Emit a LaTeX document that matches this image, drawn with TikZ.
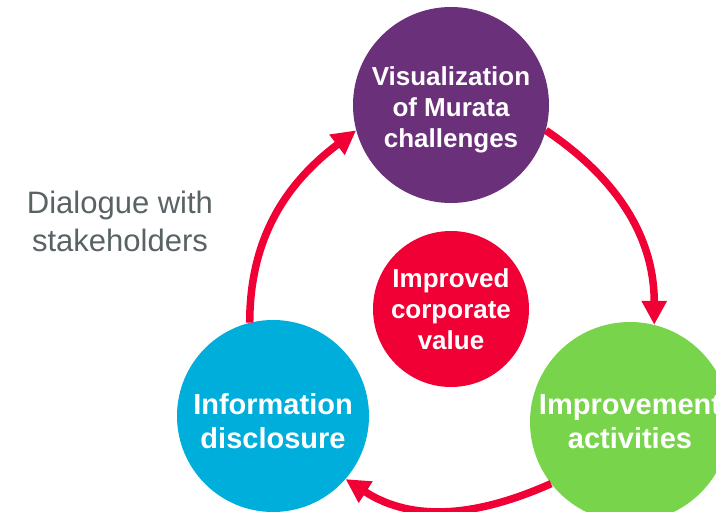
\documentclass[tikz,border=0pt]{standalone}
\usepackage{fontspec}
\setmainfont{Liberation Sans}
\usepackage{xcolor}
\usetikzlibrary{
	arrows.meta,
	positioning
}
\definecolor{vizPurple}{RGB}{107,48,122}
\definecolor{valueRed}{RGB}{240,0,52}
\definecolor{infoBlue}{RGB}{0,174,219}
\definecolor{actGreen}{RGB}{120,213,75}
\definecolor{noteGray}{RGB}{89,99,101}

\begin{document}
\begin{tikzpicture}[
			x=1pt, y=1pt,
			bubble/.style={circle, inner sep=0pt, align=center, text=white, font=\bfseries\fontsize{26}{31}\selectfont},
			bigbubble/.style={bubble, font=\bfseries\fontsize{29}{34}\selectfont},
			arr/.style={-{Triangle[length=24pt, width=24pt]}, line width=7.5pt, draw=valueRed}
		]
			\useasboundingbox (0,0) rectangle (716,512);
			\clip (0,0) rectangle (716,512);
			\node[bubble, fill=vizPurple, minimum size=196pt] (viz) at (451,407)
			{\rule{0pt}{29pt}Visualization\\ of Murata\\ challenges};
			\node[bubble, fill=valueRed, minimum size=156pt] (value) at (451,203) {Improved\\ corporate\\ value};
			\node[bigbubble, fill=infoBlue, minimum size=192pt] (info) at (273,96)
			{\rule{0pt}{31pt}Information\\ disclosure};
			\node[bigbubble, fill=actGreen, minimum size=200pt] (act) at (630,90) {Improvement\\ activities};
			\node[align=center, text=noteGray, font=\fontsize{31}{38}\selectfont] (talk) at (120,291) {Dialogue with\\ stakeholders};
			\draw[arr] (info.104) to[out=90, in=217] (viz.195);
			\draw[arr] (viz.-15) to[out=-34, in=90] (act.76);
			\draw[arr] (act.218) to[out=204, in=-33] (info.-41);
		\end{tikzpicture}
\end{document}
